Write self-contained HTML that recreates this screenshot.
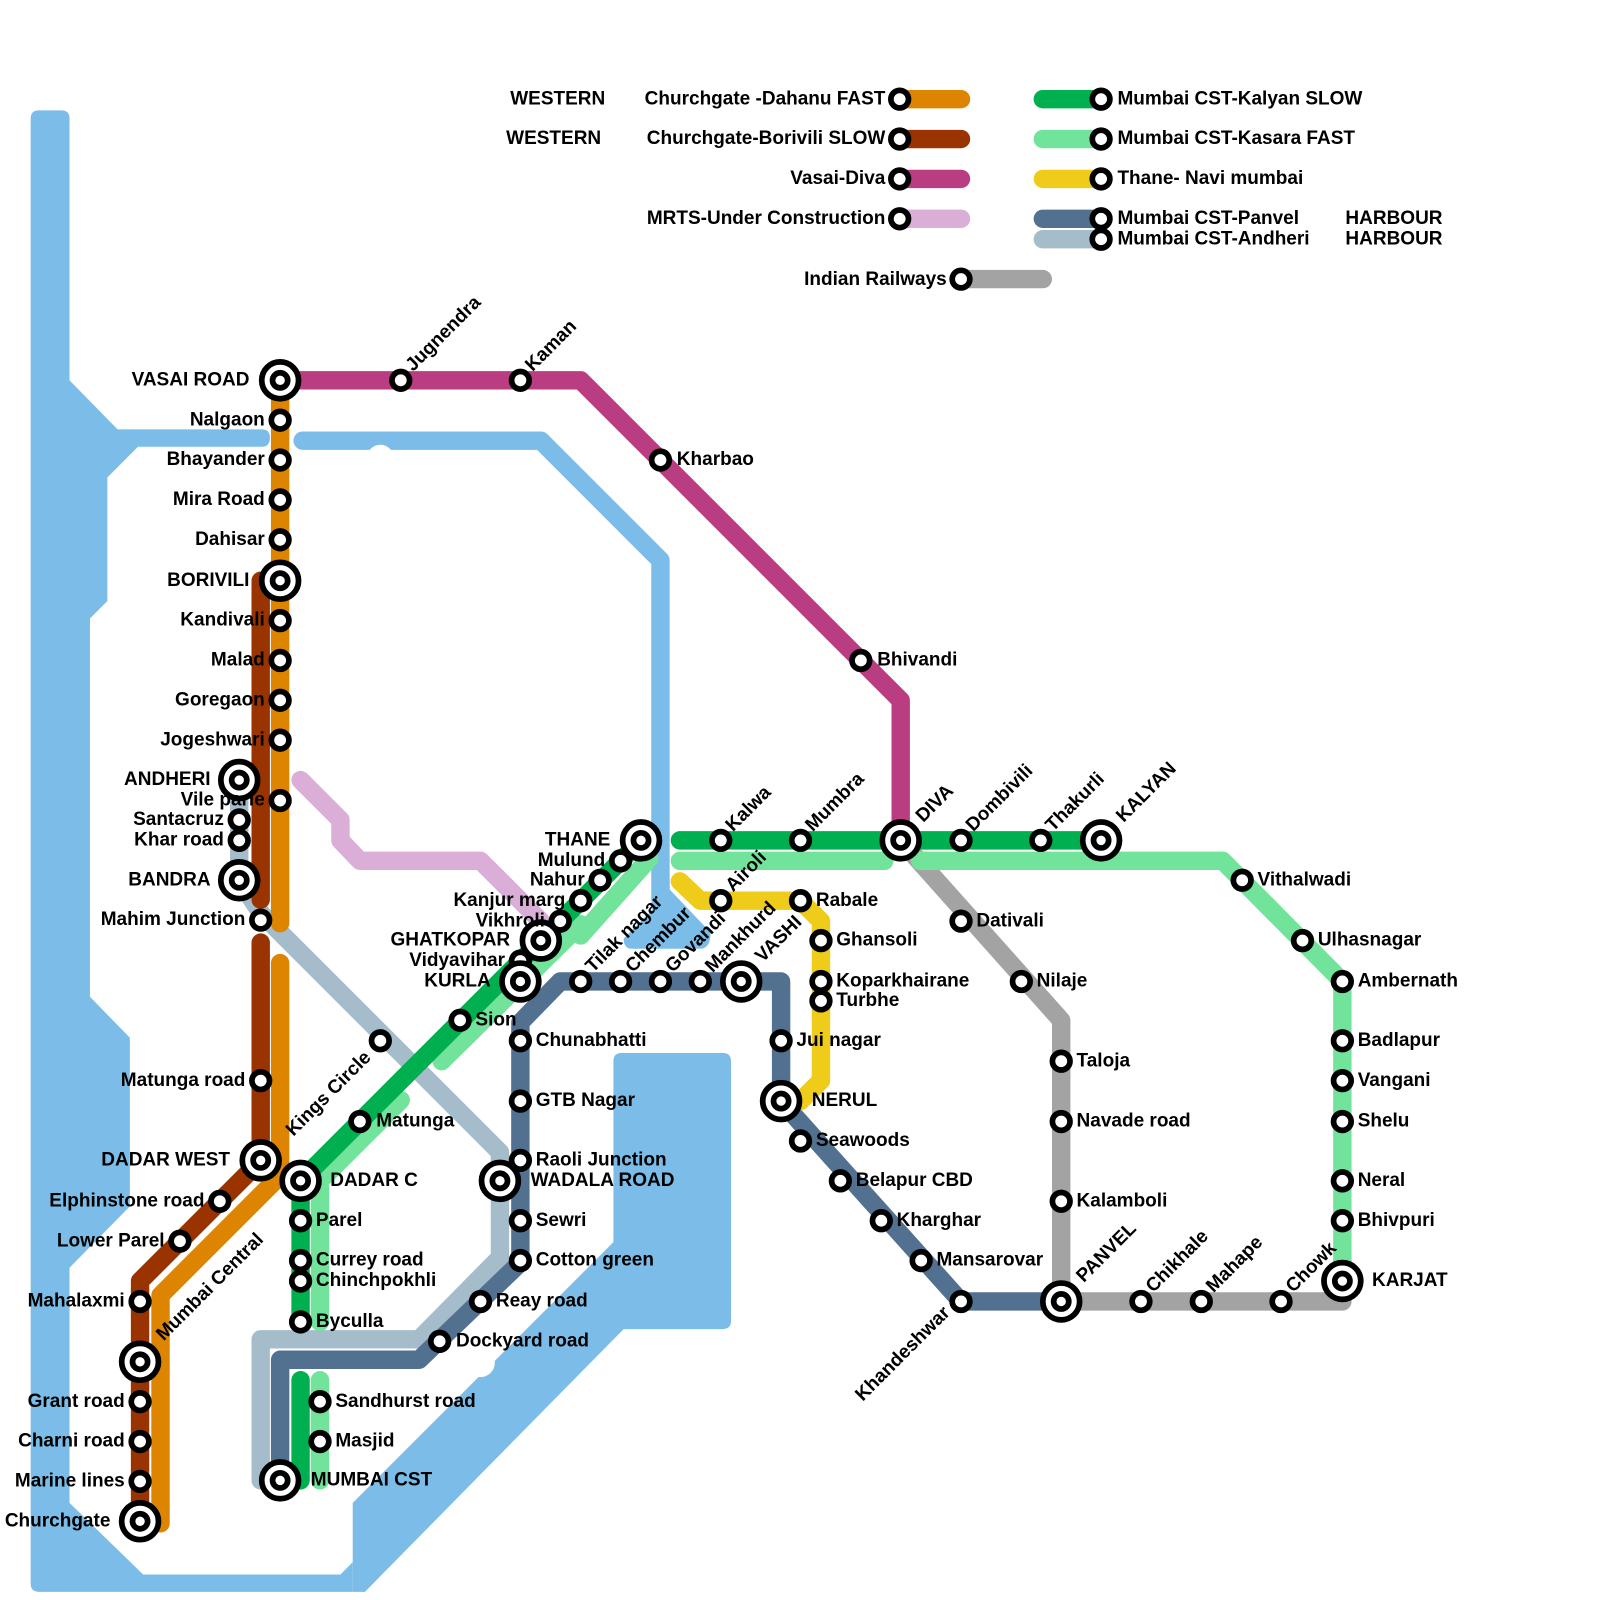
<!DOCTYPE html>
<html><head><meta charset="utf-8"><style>
html,body{margin:0;padding:0;background:#fff}
svg{display:block}
text{font-family:"Liberation Sans",Arial,sans-serif;font-weight:bold;font-size:18.6px;fill:#000}
.e{text-anchor:end}
.s{fill:#fff;stroke:#000;stroke-width:5.6}
.l{fill:none;stroke-width:18;stroke-linecap:round;stroke-linejoin:round}
</style></head><body>
<svg width="1600" height="1600" viewBox="0 0 1565 1565" xmlns="http://www.w3.org/2000/svg">
<defs>
<g id="s"><circle r="8.6" class="s"/></g>
<g id="b"><circle r="18" class="s" stroke-width="6"/><circle r="7.4" class="s"/></g>
</defs>
<!-- water -->
<g fill="#7bbde8">
<path d="M30,116 Q30,108 38,108 L60,108 Q68,108 68,116 L68,372 L115,420 L256,420 Q264,420 264,428 Q264,437 256,437 L135,437 L105,467 L105,588 L88,605 L88,975 L127,1015 L127,1180 L68,1240 L68,1470 L140,1540 L333,1540 L345,1528 L345,1557 L38,1557 Q30,1557 30,1549 Z"/>
<path d="M345,1470 L600,1215 L600,1038 Q600,1030 608,1030 L707,1030 Q715,1030 715,1038 L715,1292 Q715,1300 707,1300 L610,1300 L357,1557 L345,1557 Z"/>
<path d="M638,860 L655,860 L655,870 L695,912 Q695,928 685,928 L618,928 Q610,928 610,918 L638,890 Z"/>
</g>
<polyline class="l" stroke="#7bbde8" points="296,431 529,431 646,548 646,880"/>
<circle cx="372" cy="448" r="13" fill="#fff"/>
<circle cx="470" cy="1333" r="14" fill="#fff"/>

<!-- legend -->
<text x="592" y="102" class="e">WESTERN</text>
<text x="588" y="141" class="e">WESTERN</text>
<text x="866" y="102" class="e">Churchgate -Dahanu FAST</text>
<text x="866" y="141" class="e">Churchgate-Borivili SLOW</text>
<text x="866" y="180" class="e">Vasai-Diva</text>
<text x="866" y="219" class="e">MRTS-Under Construction</text>
<line x1="880" y1="97" x2="940" y2="97" class="l" stroke="#dd8500"/>
<line x1="880" y1="136" x2="940" y2="136" class="l" stroke="#993300"/>
<line x1="880" y1="175" x2="940" y2="175" class="l" stroke="#b93d80"/>
<line x1="880" y1="214" x2="940" y2="214" class="l" stroke="#dbaed8"/>
<use href="#s" x="880" y="97"/><use href="#s" x="880" y="136"/><use href="#s" x="880" y="175"/><use href="#s" x="880" y="214"/>
<line x1="1020" y1="97" x2="1077" y2="97" class="l" stroke="#00b050"/>
<line x1="1020" y1="136" x2="1077" y2="136" class="l" stroke="#72e39a"/>
<line x1="1020" y1="175" x2="1077" y2="175" class="l" stroke="#f0cc1a"/>
<line x1="1020" y1="234" x2="1077" y2="234" class="l" stroke="#a5bccb"/>
<line x1="1020" y1="214" x2="1077" y2="214" class="l" stroke="#527090"/>
<use href="#s" x="1077" y="97"/><use href="#s" x="1077" y="136"/><use href="#s" x="1077" y="175"/><use href="#s" x="1077" y="214"/><use href="#s" x="1077" y="234"/>
<text x="1093" y="102">Mumbai CST-Kalyan SLOW</text>
<text x="1093" y="141">Mumbai CST-Kasara FAST</text>
<text x="1093" y="180">Thane- Navi mumbai</text>
<text x="1093" y="219">Mumbai CST-Panvel</text>
<text x="1093" y="239">Mumbai CST-Andheri</text>
<text x="1316" y="219">HARBOUR</text>
<text x="1316" y="239">HARBOUR</text>
<line x1="940" y1="273" x2="1020" y2="273" class="l" stroke="#a3a3a3"/>
<use href="#s" x="940" y="273"/>
<text x="926" y="279" class="e">Indian Railways</text>

<!-- lines -->
<polyline class="l" stroke="#dbaed8" points="294,763 333,802 333,822 352,842 470,842 529,901"/>
<polyline class="l" stroke="#a5bccb" points="234,763 234,861 255,893 489,1127 489,1230 410,1310 255,1310 255,1448"/>
<polyline class="l" stroke="#527090" points="274,1448 274,1330 410,1330 509,1235 509,1000 548,960 764,960 764,1077 940,1273 1038,1273"/>
<polyline class="l" stroke="#a3a3a3" points="881,822 1038,998 1038,1273 1313,1273"/>
<polyline class="l" stroke="#72e39a" points="318,1150 392,1076"/>
<polyline class="l" stroke="#72e39a" points="432,1038 568,904 568,915 635,840"/>
<polyline class="l" stroke="#72e39a" points="313,1160 313,1293"/>
<polyline class="l" stroke="#72e39a" points="313,1350 313,1448"/>
<polyline class="l" stroke="#72e39a" points="665,842 865,842"/>
<polyline class="l" stroke="#72e39a" points="900,842 1196,842 1313,960 1313,1253"/>
<polyline class="l" stroke="#00b050" points="294,1448 294,1350"/>
<polyline class="l" stroke="#00b050" points="294,1293 294,1155 627,822"/>
<polyline class="l" stroke="#00b050" points="665,822 1077,822"/>
<polyline class="l" stroke="#f0cc1a" points="665,862 685,881 783,881 803,901 803,1057 783,1077"/>
<polyline class="l" stroke="#b93d80" points="274,372 568,372 881,685 881,822"/>
<polyline class="l" stroke="#dd8500" points="274,372 274,903"/>
<polyline class="l" stroke="#dd8500" points="274,942 274,1150 157,1267 157,1490"/>
<polyline class="l" stroke="#993300" points="255,568 255,880"/>
<polyline class="l" stroke="#993300" points="255,922 255,1135 137,1253 137,1488"/>

<!-- stations -->
<g>
<use href="#s" x="274" y="411"/><use href="#s" x="274" y="450"/><use href="#s" x="274" y="489"/><use href="#s" x="274" y="528"/>
<use href="#s" x="274" y="607"/><use href="#s" x="274" y="646"/><use href="#s" x="274" y="685"/><use href="#s" x="274" y="724"/>
<use href="#s" x="274" y="783"/><use href="#s" x="234" y="802"/><use href="#s" x="234" y="822"/><use href="#s" x="255" y="900"/>
<use href="#s" x="255" y="1057"/><use href="#s" x="215" y="1175"/><use href="#s" x="176" y="1214"/><use href="#s" x="137" y="1273"/>
<use href="#s" x="137" y="1371"/><use href="#s" x="137" y="1410"/><use href="#s" x="137" y="1449"/>
<use href="#s" x="392" y="372"/><use href="#s" x="509" y="372"/><use href="#s" x="646" y="450"/><use href="#s" x="842" y="646"/>
<use href="#s" x="372" y="1018"/><use href="#s" x="352" y="1097"/><use href="#s" x="450" y="998"/>
<use href="#s" x="294" y="1194"/><use href="#s" x="294" y="1233"/><use href="#s" x="294" y="1253"/><use href="#s" x="294" y="1293"/>
<use href="#s" x="313" y="1371"/><use href="#s" x="313" y="1410"/>
<use href="#s" x="509" y="940"/><use href="#s" x="548" y="901"/><use href="#s" x="568" y="881"/><use href="#s" x="587" y="861"/><use href="#s" x="607" y="842"/>
<use href="#s" x="705" y="822"/><use href="#s" x="783" y="822"/><use href="#s" x="940" y="822"/><use href="#s" x="1018" y="822"/>
<use href="#s" x="1215" y="861"/><use href="#s" x="1274" y="920"/><use href="#s" x="1313" y="960"/><use href="#s" x="1313" y="1018"/><use href="#s" x="1313" y="1057"/><use href="#s" x="1313" y="1097"/><use href="#s" x="1313" y="1155"/><use href="#s" x="1313" y="1194"/>
<use href="#s" x="940" y="901"/><use href="#s" x="999" y="960"/><use href="#s" x="1038" y="1038"/><use href="#s" x="1038" y="1097"/><use href="#s" x="1038" y="1175"/>
<use href="#s" x="1116" y="1273"/><use href="#s" x="1175" y="1273"/><use href="#s" x="1253" y="1273"/>
<use href="#s" x="705" y="881"/><use href="#s" x="783" y="881"/><use href="#s" x="803" y="920"/><use href="#s" x="803" y="960"/><use href="#s" x="803" y="979"/>
<use href="#s" x="509" y="1018"/><use href="#s" x="509" y="1077"/><use href="#s" x="509" y="1135"/><use href="#s" x="509" y="1194"/><use href="#s" x="509" y="1233"/>
<use href="#s" x="470" y="1273"/><use href="#s" x="430" y="1312"/>
<use href="#s" x="568" y="960"/><use href="#s" x="607" y="960"/><use href="#s" x="646" y="960"/><use href="#s" x="685" y="960"/>
<use href="#s" x="764" y="1018"/><use href="#s" x="783" y="1116"/><use href="#s" x="822" y="1155"/><use href="#s" x="862" y="1194"/><use href="#s" x="901" y="1233"/><use href="#s" x="940" y="1273"/>
</g>
<g>
<use href="#b" x="274" y="372"/><use href="#b" x="274" y="568"/><use href="#b" x="234" y="763"/><use href="#b" x="234" y="861"/>
<use href="#b" x="255" y="1135"/><use href="#b" x="137" y="1332"/><use href="#b" x="137" y="1488"/><use href="#b" x="274" y="1448"/>
<use href="#b" x="294" y="1155"/><use href="#b" x="489" y="1155"/><use href="#b" x="509" y="960"/><use href="#b" x="529" y="920"/>
<use href="#b" x="627" y="822"/><use href="#b" x="725" y="960"/><use href="#b" x="764" y="1077"/><use href="#b" x="881" y="822"/>
<use href="#b" x="1077" y="822"/><use href="#b" x="1038" y="1273"/><use href="#b" x="1313" y="1253"/>
</g>

<!-- left labels -->
<g class="e" text-anchor="end">
<text x="244" y="377">VASAI ROAD</text>
<text x="259" y="416">Nalgaon</text>
<text x="259" y="455">Bhayander</text>
<text x="259" y="494">Mira Road</text>
<text x="259" y="533">Dahisar</text>
<text x="244" y="573">BORIVILI</text>
<text x="259" y="612">Kandivali</text>
<text x="259" y="651">Malad</text>
<text x="259" y="690">Goregaon</text>
<text x="259" y="729">Jogeshwari</text>
<text x="206" y="768">ANDHERI</text>
<text x="259" y="788">Vile parle</text>
<text x="219" y="807">Santacruz</text>
<text x="219" y="827">Khar road</text>
<text x="206" y="866">BANDRA</text>
<text x="240" y="905">Mahim Junction</text>
<text x="240" y="1062">Matunga road</text>
<text x="225" y="1140">DADAR WEST</text>
<text x="200" y="1180">Elphinstone road</text>
<text x="161" y="1219">Lower Parel</text>
<text x="122" y="1278">Mahalaxmi</text>
<text x="122" y="1376">Grant road</text>
<text x="122" y="1415">Charni road</text>
<text x="122" y="1454">Marine lines</text>
<text x="108" y="1493">Churchgate</text>
<text x="597" y="827">THANE</text>
<text x="592" y="847">Mulund</text>
<text x="572" y="866">Nahur</text>
<text x="553" y="886">Kanjur marg</text>
<text x="533" y="906">Vikhroli</text>
<text x="499" y="925">GHATKOPAR</text>
<text x="494" y="945">Vidyavihar</text>
<text x="480" y="965">KURLA</text>
</g>
<!-- right labels -->
<g>
<text x="662" y="455">Kharbao</text>
<text x="858" y="651">Bhivandi</text>
<text x="465" y="1003">Sion</text>
<text x="368" y="1102">Matunga</text>
<text x="323" y="1160">DADAR C</text>
<text x="309" y="1199">Parel</text>
<text x="309" y="1238">Currey road</text>
<text x="309" y="1258">Chinchpokhli</text>
<text x="309" y="1298">Byculla</text>
<text x="328" y="1376">Sandhurst road</text>
<text x="328" y="1415">Masjid</text>
<text x="304" y="1453">MUMBAI CST</text>
<text x="524" y="1023">Chunabhatti</text>
<text x="524" y="1082">GTB Nagar</text>
<text x="524" y="1140">Raoli Junction</text>
<text x="519" y="1160">WADALA ROAD</text>
<text x="524" y="1199">Sewri</text>
<text x="524" y="1238">Cotton green</text>
<text x="485" y="1278">Reay road</text>
<text x="446" y="1317">Dockyard road</text>
<text x="779" y="1023">Jui nagar</text>
<text x="794" y="1082">NERUL</text>
<text x="798" y="1121">Seawoods</text>
<text x="837" y="1160">Belapur CBD</text>
<text x="877" y="1199">Kharghar</text>
<text x="916" y="1238">Mansarovar</text>
<text x="798" y="886">Rabale</text>
<text x="818" y="925">Ghansoli</text>
<text x="818" y="965">Koparkhairane</text>
<text x="818" y="984">Turbhe</text>
<text x="955" y="906">Dativali</text>
<text x="1014" y="965">Nilaje</text>
<text x="1053" y="1043">Taloja</text>
<text x="1053" y="1102">Navade road</text>
<text x="1053" y="1180">Kalamboli</text>
<text x="1230" y="866">Vithalwadi</text>
<text x="1289" y="925">Ulhasnagar</text>
<text x="1328" y="965">Ambernath</text>
<text x="1328" y="1023">Badlapur</text>
<text x="1328" y="1062">Vangani</text>
<text x="1328" y="1102">Shelu</text>
<text x="1328" y="1160">Neral</text>
<text x="1328" y="1199">Bhivpuri</text>
<text x="1342" y="1258">KARJAT</text>
</g>
<!-- rotated labels -->
<g>
<text transform="translate(404,364) rotate(-45)">Jugnendra</text>
<text transform="translate(521,364) rotate(-45)">Kaman</text>
<text transform="translate(287,1112) rotate(-45)">Kings Circle</text>
<text transform="translate(160,1312) rotate(-45)">Mumbai Central</text>
<text transform="translate(580,952) rotate(-45)">Tilak nagar</text>
<text transform="translate(619,952) rotate(-45)">Chembur</text>
<text transform="translate(658,952) rotate(-45)">Govandi</text>
<text transform="translate(697,952) rotate(-45)">Mankhurd</text>
<text transform="translate(746,942) rotate(-45)">VASHI</text>
<text transform="translate(717,873) rotate(-45)">Airoli</text>
<text transform="translate(717,814) rotate(-45)">Kalwa</text>
<text transform="translate(795,814) rotate(-45)">Mumbra</text>
<text transform="translate(903,805) rotate(-45)">DIVA</text>
<text transform="translate(952,814) rotate(-45)">Dombivili</text>
<text transform="translate(1030,814) rotate(-45)">Thakurli</text>
<text transform="translate(1099,805) rotate(-45)">KALYAN</text>
<text transform="translate(1060,1255) rotate(-45)">PANVEL</text>
<text transform="translate(1128,1265) rotate(-45)">Chikhale</text>
<text transform="translate(1187,1265) rotate(-45)">Mahape</text>
<text transform="translate(1265,1265) rotate(-45)">Chowk</text>
<text transform="translate(930,1285) rotate(-45)" text-anchor="end">Khandeshwar</text>
</g>
</svg>
</body></html>
